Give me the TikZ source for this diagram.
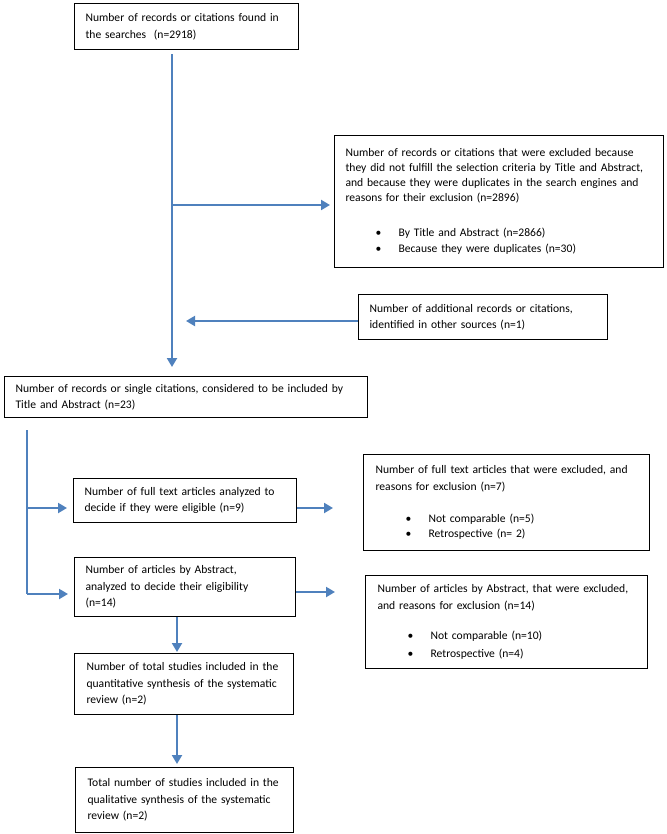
\documentclass[tikz,border=0pt]{standalone}
\usepackage{fontspec}
\setmainfont{Carlito}
\usetikzlibrary{arrows.meta}
\definecolor{arrblue}{RGB}{79,129,189}
\tikzset{
  box/.style={draw=black, line width=1.1pt, anchor=north west, align=left,
    inner xsep=11pt, inner ysep=0pt, font=\fontsize{11.6pt}{16.5pt}\selectfont},
  arr/.style={draw=arrblue, line width=2pt, -{Triangle[length=9pt,width=10pt]}},
  thinline/.style={draw=arrblue, line width=1.3pt},
}
\newcommand{\bul}[1]{\hspace*{30pt}\makebox[23pt][l]{\textbullet}#1}
\newcommand{\lne}[1]{\mbox{#1}}
\begin{document}
\begin{tikzpicture}[x=1pt,y=-1pt]
\useasboundingbox (0,0) rectangle (666,834);
\fill[white] (0,0) rectangle (666,834);

% boxes
\node[box, minimum width=224pt, minimum height=46pt, text width=202pt] (b1) at (74,3)
  {\lne{Number of records or citations found in}\\ \lne{the searches\ \ (n=2918)}};
\node[box, minimum width=329pt, minimum height=132pt, text width=307pt,
      font=\fontsize{11.6pt}{15pt}\selectfont] (b2) at (334,135)
  {\lne{Number of records or citations that were excluded because}\\
   \lne{they did not fulfill the selection criteria by Title and Abstract,}\\
   \lne{and because they were duplicates in the search engines and}\\
   \lne{reasons for their exclusion (n=2896)}\\[20pt]
   \lne{\bul{By Title and Abstract (n=2866)}}\\[1.5pt]
   \lne{\bul{Because they were duplicates (n=30)}}};
\node[box, minimum width=249pt, minimum height=45pt, text width=227pt] (badd) at (358,294)
  {\lne{Number of additional records or citations,}\\ \lne{identified in other sources (n=1)}};
\node[box, minimum width=363pt, minimum height=41pt, text width=341pt] (b3) at (4,376)
  {\lne{Number of records or single citations, considered to be included by}\\ \lne{Title and Abstract (n=23)}};
\node[box, minimum width=223pt, minimum height=44pt, text width=201pt] (b4) at (73,478)
  {\lne{Number of full text articles analyzed to}\\ \lne{decide if they were eligible (n=9)}};
\node[box, minimum width=286pt, minimum height=96pt, text width=262pt, inner xsep=12pt] (ex2) at (363,454)
  {\lne{Number of full text articles that were excluded, and}\\
   \lne{reasons for exclusion (n=7)}\\[16pt]
   \lne{\bul{Not comparable (n=5)}}\\[-1.5pt]
   \lne{\bul{Retrospective (n= 2)}}};
\node[box, minimum width=221pt, minimum height=59pt, text width=199pt] (b5) at (74,557)
  {\lne{Number of articles by Abstract,}\\ \lne{analyzed to decide their eligibility}\\ \lne{(n=14)}};
\node[box, minimum width=282pt, minimum height=93pt, text width=258pt, inner xsep=12pt] (ex3) at (365,575)
  {\lne{Number of articles by Abstract, that were excluded,}\\
   \lne{and reasons for exclusion (n=14)}\\[14pt]
   \lne{\bul{Not comparable (n=10)}}\\[1pt]
   \lne{\bul{Retrospective (n=4)}}};
\node[box, minimum width=219pt, minimum height=61pt, text width=195pt, inner xsep=12pt] (b6) at (74,653)
  {\lne{Number of total studies included in the}\\ \lne{quantitative synthesis of the systematic}\\ \lne{review (n=2)}};
\node[box, minimum width=218pt, minimum height=65pt, text width=194pt, inner xsep=12pt] (b7) at (75,767)
  {\lne{Total number of studies included in the}\\ \lne{qualitative synthesis of the systematic}\\ \lne{review (n=2)}};

% helper coordinates
\coordinate (vx) at (172,0);
\coordinate (j1) at (172,205);
\coordinate (j2) at (186,321);
\coordinate (lx) at (27,0);
\coordinate (l1) at (27,508);
\coordinate (l2) at (27,594);
\coordinate (r1) at (0,508);
\coordinate (r2) at (0,592);
\coordinate (cx) at (177,0);

% main vertical
\draw[arr, shorten <=4pt, shorten >=9pt] (b1.south -| vx) -- (b3.north -| vx);
\draw[arr, shorten >=4pt] (j1) -- (j1 -| b2.west);
\draw[arr] (badd.west |- j2) -- (j2);

% left branch
\draw[thinline, shorten <=12pt] (b3.south -| lx) -- (l2);
\draw[arr, shorten >=6pt] (l2) -- (l2 -| b5.west);
\draw[arr, shorten >=6pt] (l1) -- (l1 -| b4.west);

% to exclusion boxes
\draw[arr, shorten >=30pt] (b4.east |- r1) -- (r1 -| ex2.west);
\draw[arr, shorten >=30pt] (b5.east |- r2) -- (r2 -| ex3.west);

% down the chain
\draw[arr, shorten >=1pt] (b5.south -| cx) -- (b6.north -| cx);
\draw[arr, shorten >=3pt] (b6.south -| cx) -- (b7.north -| cx);
\end{tikzpicture}
\end{document}
